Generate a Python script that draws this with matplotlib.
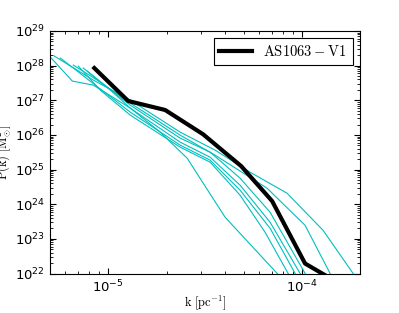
import numpy as np
import matplotlib
matplotlib.use("Agg")
import matplotlib.pyplot as plt
from matplotlib.font_manager import FontProperties
from matplotlib.ticker import NullFormatter

# ============== data (log10 of k [pc^-1] and P(k) [Msun^2]) ==============
obs_logk = [-5.072, -4.897, -4.706, -4.510, -4.313, -4.153, -3.983, -3.802]
obs_logp = [27.93, 26.98, 26.72, 26.02, 25.10, 24.09, 22.29, 21.70]

sim_logk = [
    [-5.2994, -5.1859, -5.0774, -4.8864, -4.7315, -4.5922, -4.3960, -4.1275, -4.0604],
    [-5.2788, -5.0774, -4.8864, -4.6283, -4.4476, -4.2669, -4.0759, -3.8900, -3.7351, -3.6732],
    [-5.1807, -5.0413, -4.8864, -4.6283, -4.4476, -4.1791, -3.9830, -3.8539, -3.8022],
    [-5.1291, -5.0155, -4.8864, -4.6283, -4.4734, -4.3185, -4.1636, -3.9830, -3.9313],
    [-5.1084, -5.0000, -4.8864, -4.6283, -4.4734, -4.3185, -4.1636, -4.0088, -3.9571],
    [-5.2478, -5.0671, -4.8864, -4.6283, -4.4734, -4.3185, -4.1636, -4.0346, -3.9830],
    [-5.1549, -5.0413, -4.8864, -4.6283, -4.4734, -4.3185, -4.1895, -4.0707, -4.0191],
]
sim_logp = [
    [28.249, 27.555, 27.439, 26.775, 26.081, 25.329, 23.624, 22.006, 21.514],
    [28.277, 27.584, 27.006, 26.081, 25.561, 24.925, 24.318, 23.249, 22.006, 21.514],
    [28.017, 27.526, 26.919, 25.994, 25.416, 24.462, 23.393, 22.006, 21.514],
    [27.931, 27.410, 26.861, 25.908, 25.503, 24.751, 23.769, 22.006, 21.514],
    [27.844, 27.353, 26.775, 25.792, 25.358, 24.549, 23.480, 22.006, 21.514],
    [28.220, 27.439, 26.659, 25.705, 25.272, 24.405, 23.306, 22.006, 21.514],
    [27.988, 27.295, 26.572, 25.647, 25.214, 24.260, 23.191, 22.006, 21.514],
]
obs_label = r"$\mathrm{AS1063-V1}$"
# =========================================================================

fig = plt.figure(figsize=(3.99, 3.13), dpi=100)
ax = fig.add_axes([0.1253, 0.126, 0.777, 0.775])

for lk, lp in zip(sim_logk, sim_logp):
    ax.plot(10 ** np.array(lk), 10 ** np.array(lp), color=(0.0, 0.75, 0.75), lw=0.8)
ax.plot(10 ** np.array(obs_logk), 10 ** np.array(obs_logp), color="black", lw=3,
        label=obs_label)

ax.set_xscale("log")
ax.set_yscale("log")
ax.set_xlim(5e-6, 2e-4)
ax.set_ylim(1e22, 1e29)
ax.xaxis.set_minor_formatter(NullFormatter())
ax.yaxis.set_minor_formatter(NullFormatter())

ax.tick_params(which="both", direction="in", top=True, right=True, labelsize=9.5)
ax.tick_params(which="major", length=4)
ax.tick_params(which="minor", length=2)

ax.set_xlabel(r"$\mathrm{k\ [pc^{-1}]}$", math_fontfamily="cm", fontsize=9)
ax.set_ylabel(r"$\mathrm{P(k)\ [M_{\odot}^{2}]}$", math_fontfamily="cm", fontsize=9)
ax.xaxis.set_label_coords(0.5, -0.08)
ax.yaxis.set_label_coords(-0.12, 0.5)

leg = ax.legend(loc="upper right", fancybox=False, framealpha=1, edgecolor="black",
                prop=FontProperties(size=10.5, math_fontfamily="cm"), handlelength=2.2)
leg.get_frame().set_linewidth(0.8)

fig.savefig("out.png", dpi=100)
